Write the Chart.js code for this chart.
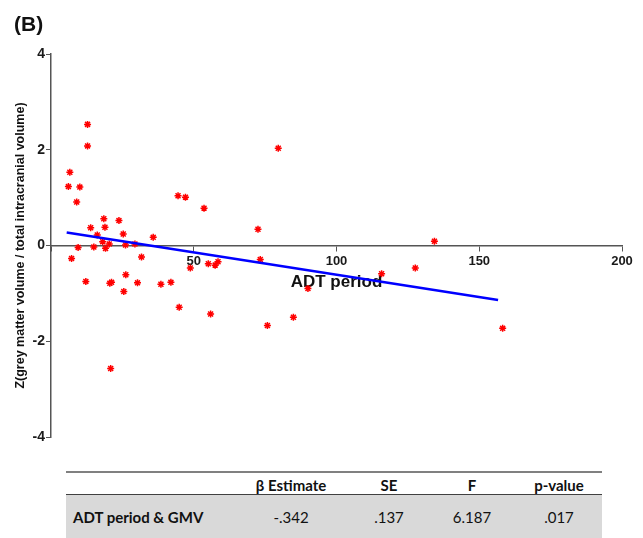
<!DOCTYPE html>
<html>
<head>
<meta charset="utf-8">
<script src="https://cdn.jsdelivr.net/npm/chart.js@4.4.0/dist/chart.umd.min.js"></script>
<style>
  body { margin: 0; background: #fff; }
  #wrap { position: relative; width: 643px; height: 538px; overflow: hidden; font-family: "Liberation Sans", Arial, sans-serif; }
  #panel { position: absolute; left: 14px; top: 12px; font: bold 21px "Liberation Sans", Arial, sans-serif; color: #111; }
  #c { position: absolute; left: 0; top: 0; }
  .rule { position: absolute; left: 66px; width: 536px; }
  .cell { position: absolute; transform: translate(-50%, -50%); font-family: Lato, "Open Sans", sans-serif; font-size: 15px; color: #111; white-space: nowrap; }
  .hd { font-weight: bold; }
</style>
</head>
<body>
<div id="wrap">
  <canvas id="c" width="643" height="470"></canvas>
  <div id="panel">(B)</div>
  <div class="rule" style="top:471px;height:2px;background:#808080;"></div>
  <div class="rule" style="top:494px;height:44px;background:#d9d9d9;border-top:1px solid #404040;"></div>
  <div id="tbl"></div>
</div>
<script>
// ADT period (months) vs Z(GMV / TIV)
const adtPeriod = [12.8, 12.8, 6.6, 6.1, 10.1, 9.0, 13.9, 18.5, 18.9, 16.2,
                   18.1, 20.4, 23.8, 25.3, 26.1, 29.4, 35.8, 7.2, 9.5, 15.0,
                   19.1, 31.7, 26.2, 12.2, 20.6, 21.2, 30.3, 25.5, 38.5, 42.0,
                   44.5, 47.1, 53.6, 48.8, 55.1, 57.5, 58.5, 72.5, 73.3, 79.6,
                   134.3, 115.8, 127.6, 90.0, 55.9, 84.9, 158.2, 44.9, 75.8, 20.9];
const zGmv = [2.53, 2.08, 1.53, 1.23, 1.22, 0.91, 0.37, 0.56, 0.38, 0.22,
              0.08, 0.03, 0.52, 0.24, 0.01, 0.03, 0.17, -0.27, -0.04, -0.03,
              -0.06, -0.24, -0.61, -0.75, -0.79, -0.77, -0.78, -0.96, -0.81, -0.77,
              1.04, 1.01, 0.78, -0.47, -0.38, -0.41, -0.34, 0.34, -0.29, 2.03,
              0.09, -0.59, -0.47, -0.90, -1.43, -1.50, -1.73, -1.29, -1.67, -2.57];

// fitted regression line ends
const fitX = [5.5, 156.6];
const fitY = [0.27, -1.14];

// stats table
const tblHeaders = ['β Estimate', 'SE', 'F', 'p-value'];
const tblRowLabel = 'ADT period & GMV';
const tblValues = ['-.342', '.137', '6.187', '.017'];

const AXIS = '#555';
const INK = '#1a1a1a';

const points = adtPeriod.map((x, i) => ({ x, y: zGmv[i] }));
const fitLine = fitX.map((x, i) => ({ x, y: fitY[i] }));

new Chart(document.getElementById('c'), {
  type: 'scatter',
  data: {
    datasets: [
      {
        label: 'Fit',
        data: fitLine,
        showLine: true,
        borderColor: '#0000ff',
        borderWidth: 2.5,
        pointRadius: 0,
        fill: false,
        order: 1,
      },
      {
        label: 'Subjects',
        data: points,
        pointStyle: 'star',
        pointRadius: 3.5,
        borderColor: '#ff0000',
        backgroundColor: '#ff0000',
        borderWidth: 1.5,
        order: 2,
      },
    ]
  },
  options: {
    responsive: false,
    animation: false,
    layout: { padding: { top: 54, right: 21, bottom: 33, left: 0 } },
    plugins: { legend: { display: false }, tooltip: { enabled: false } },
    scales: {
      x: {
        type: 'linear',
        min: 0, max: 200,
        position: { y: 0 },
        border: { color: AXIS, width: 1.5 },
        grid: { drawOnChartArea: false, drawTicks: true, tickLength: 5, color: AXIS },
        ticks: {
          stepSize: 50,
          padding: 3,
          maxRotation: 0,
          color: INK,
          font: { family: '"Liberation Sans", Arial, sans-serif', size: 13, weight: 'bold' },
          callback: v => (v === 0 ? '' : v),
        },
        title: {
          display: true,
          text: 'ADT period',
          color: '#111',
          padding: { top: 0, bottom: 0 },
          font: { family: '"Liberation Sans", Arial, sans-serif', size: 17, weight: 'bold' },
        },
      },
      y: {
        min: -4, max: 4,
        border: { color: AXIS, width: 1.5 },
        grid: { drawOnChartArea: false, drawTicks: true, tickLength: 5, color: AXIS },
        ticks: {
          stepSize: 2,
          padding: 1,
          color: INK,
          font: { family: '"Liberation Sans", Arial, sans-serif', size: 14, weight: 'bold' },
        },
        title: {
          display: true,
          text: 'Z(grey matter volume / total intracranial volume)',
          color: '#111',
          padding: { top: 13, bottom: 0 },
          font: { family: '"Liberation Sans", Arial, sans-serif', size: 12.5, weight: 'bold' },
        },
        afterFit: s => { s.width = 51; },
      },
    }
  }
});

// table below the chart
const colX = [291, 389, 472, 559];
const tbl = document.getElementById('tbl');
tblHeaders.forEach((h, i) => {
  const d = document.createElement('div');
  d.className = 'cell hd';
  d.style.left = colX[i] + 'px';
  d.style.top = '485px';
  d.textContent = h;
  tbl.appendChild(d);
});
const lab = document.createElement('div');
lab.className = 'cell hd';
lab.style.transform = 'translate(0, -50%)';
lab.style.left = '73px';
lab.style.top = '517px';
lab.textContent = tblRowLabel;
tbl.appendChild(lab);
tblValues.forEach((v, i) => {
  const d = document.createElement('div');
  d.className = 'cell';
  d.style.left = colX[i] + 'px';
  d.style.top = '517px';
  d.textContent = v;
  tbl.appendChild(d);
});
</script>
</body>
</html>
